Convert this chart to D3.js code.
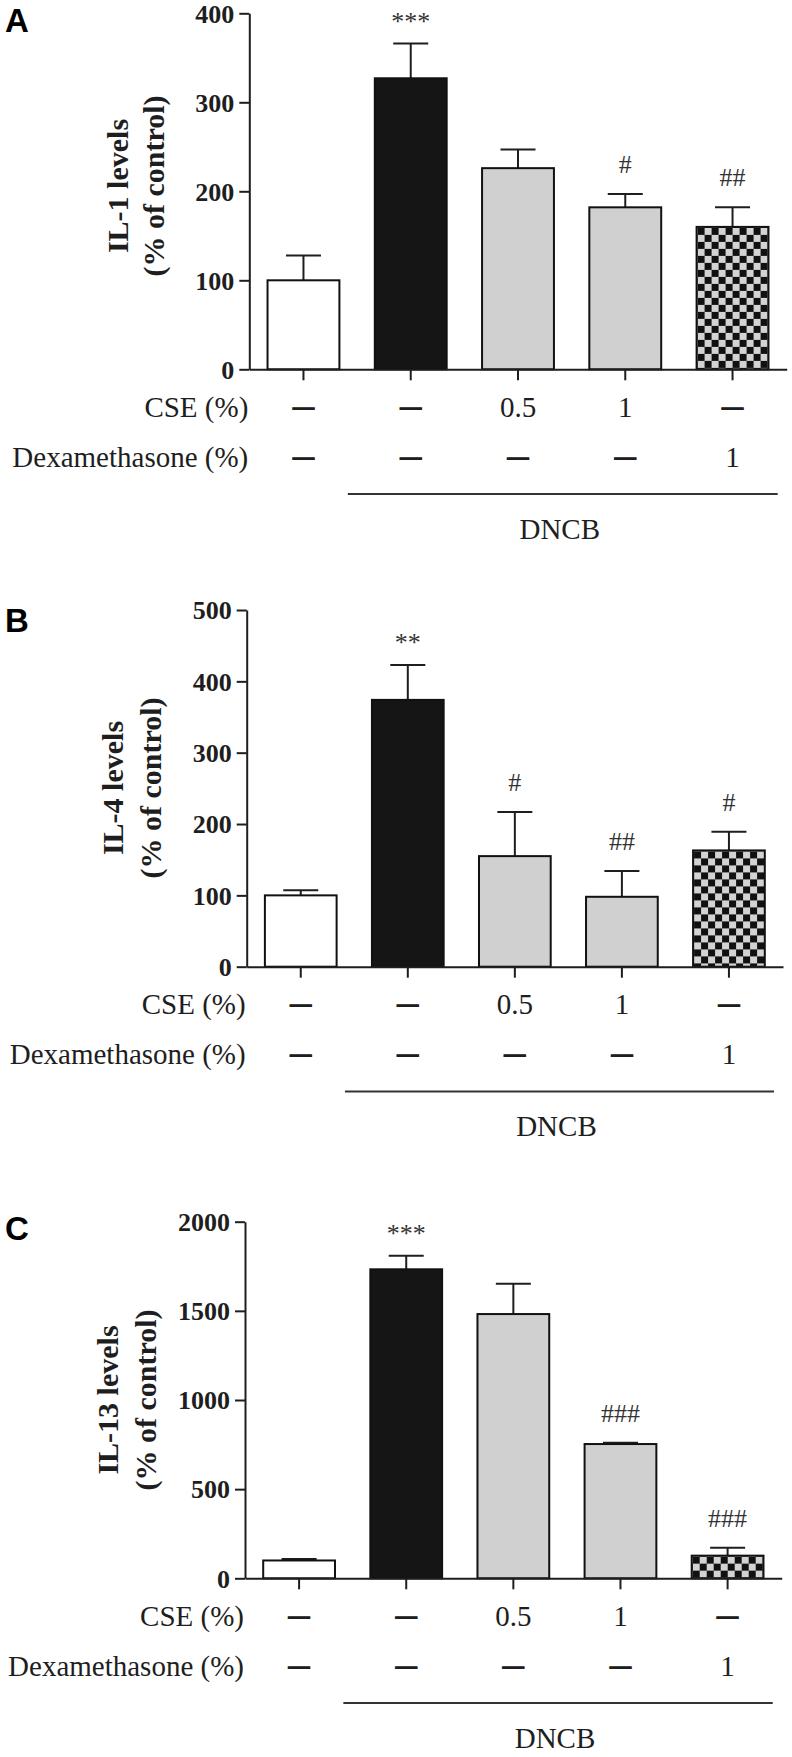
<!DOCTYPE html>
<html><head><meta charset="utf-8">
<script src="https://cdn.jsdelivr.net/npm/d3@7"></script>
<style>body{margin:0;background:#fff} svg{display:block}</style>
</head><body>
<script>
// ---------- data ----------
const categories = ["Control", "DNCB", "DNCB + CSE 0.5%", "DNCB + CSE 1%", "DNCB + Dexamethasone 1%"];
const barFills = ["white", "black", "gray", "gray", "checker"];

const il1Means = [100, 327, 226, 182, 160];
const il1Errs  = [28, 39, 21, 15, 22];
const il1Marks = ["", "***", "", "#", "##"];
const il1Ticks = [0, 100, 200, 300, 400];

const il4Means = [100, 374, 155, 98, 163];
const il4Errs  = [7, 49, 62, 36, 26];
const il4Marks = ["", "**", "#", "##", "#"];
const il4Ticks = [0, 100, 200, 300, 400, 500];

const il13Means = [100, 1733, 1482, 753, 127];
const il13Errs  = [8, 76, 170, 7, 45];
const il13Marks = ["", "***", "", "###", "###"];
const il13Ticks = [0, 500, 1000, 1500, 2000];

const cseRow = ["\u2014", "\u2014", "0.5", "1", "\u2014"];
const dexRow = ["\u2014", "\u2014", "\u2014", "\u2014", "1"];
const rowLabels = ["CSE (%)", "Dexamethasone (%)"];
const groupLabel = "DNCB";

// ---------- layout ----------
const panels = [
  {letter: "A", label: "IL-1 levels", means: il1Means, errs: il1Errs, marks: il1Marks, ticks: il1Ticks,
   x0: 249.3, x1: 786.7, yTop: 13.3, yBottom: 369.3, letterY: 32, lx1: 128, lx2: 164, ly: 186},
  {letter: "B", label: "IL-4 levels", means: il4Means, errs: il4Errs, marks: il4Marks, ticks: il4Ticks,
   x0: 246.7, x1: 783, yTop: 610, yBottom: 966.7, letterY: 632, lx1: 123, lx2: 161, ly: 788},
  {letter: "C", label: "IL-13 levels", means: il13Means, errs: il13Errs, marks: il13Marks, ticks: il13Ticks,
   x0: 245, x1: 781.7, yTop: 1221.7, yBottom: 1578.3, letterY: 1240, lx1: 118, lx2: 156, ly: 1400}
];

const SERIF = "'Liberation Serif', 'Times New Roman', serif";
const SANS = "'Liberation Sans', Arial, sans-serif";
const INK = "#1e1e1e";
const DASH = "\u2014";

const svg = d3.select("body").append("svg").attr("width", 792).attr("height", 1757);
const defs = svg.append("defs");

panels.forEach((p, pi) => {
  const g = svg.append("g");
  const x = d3.scaleBand().domain(categories).range([p.x0, p.x1]).paddingInner(0.33).paddingOuter(0.17);
  const y = d3.scaleLinear().domain([p.ticks[0], p.ticks[p.ticks.length - 1]]).range([p.yBottom, p.yTop]);
  const cx = d => x(d) + x.bandwidth() / 2;

  // checker pattern aligned with the last bar
  const lastCat = categories[4];
  const pat = defs.append("pattern").attr("id", "checker" + pi)
    .attr("patternUnits", "userSpaceOnUse").attr("width", 14).attr("height", 14)
    .attr("x", x(lastCat) + 1).attr("y", y(p.means[4]) + 1);
  pat.append("rect").attr("width", 14).attr("height", 14).attr("fill", "#d3d3d3");
  pat.append("rect").attr("width", 7).attr("height", 7).attr("fill", "#111");
  pat.append("rect").attr("x", 7).attr("y", 7).attr("width", 7).attr("height", 7).attr("fill", "#111");

  const fillFor = f => f === "white" ? "#ffffff" : f === "black" ? "#151515" : f === "gray" ? "#d0d0d0" : `url(#checker${pi})`;

  // error bars
  const eb = g.append("g").attr("stroke", INK).attr("stroke-width", 2);
  eb.selectAll("line.v").data(categories).join("line").attr("class", "v")
    .attr("x1", cx).attr("x2", cx)
    .attr("y1", (d, i) => y(p.means[i])).attr("y2", (d, i) => y(p.means[i] + p.errs[i]));
  eb.selectAll("line.c").data(categories).join("line").attr("class", "c")
    .attr("x1", d => cx(d) - 17.5).attr("x2", d => cx(d) + 17.5)
    .attr("y1", (d, i) => y(p.means[i] + p.errs[i])).attr("y2", (d, i) => y(p.means[i] + p.errs[i]));

  // bars
  g.append("g").selectAll("rect").data(categories).join("rect")
    .attr("x", d => x(d)).attr("width", x.bandwidth())
    .attr("y", (d, i) => y(p.means[i])).attr("height", (d, i) => y(0) - y(p.means[i]))
    .attr("fill", (d, i) => fillFor(barFills[i]))
    .attr("stroke", "#111").attr("stroke-width", 2);

  // significance marks
  g.append("g").selectAll("text").data(categories).join("text")
    .attr("x", cx)
    .attr("y", (d, i) => y(p.means[i] + p.errs[i]) - (p.marks[i].startsWith("*") ? 14 : 21))
    .attr("text-anchor", "middle")
    .attr("font-family", SERIF).attr("font-size", 26)
    .attr("fill", "#333")
    .text((d, i) => p.marks[i]);

  // y axis
  const ga = g.append("g").attr("transform", `translate(${p.x0},0)`)
    .call(d3.axisLeft(y).tickValues(p.ticks).tickSize(10).tickSizeOuter(0).tickPadding(5).tickFormat(d3.format("d")));
  ga.selectAll("path,line").attr("stroke", INK).attr("stroke-width", 2);
  ga.selectAll("text").attr("font-family", SERIF).attr("font-weight", "bold").attr("font-size", 26)
    .attr("fill", INK).attr("dy", "0.34em");

  // x axis
  const gx = g.append("g").attr("transform", `translate(0,${y(0)})`)
    .call(d3.axisBottom(x).tickSize(11).tickSizeOuter(0).tickFormat(""));
  gx.selectAll("path,line").attr("stroke", INK).attr("stroke-width", 2);

  // y label (two lines, rotated)
  const yl = g.append("g").attr("font-family", SERIF).attr("font-weight", "bold").attr("font-size", 30).attr("fill", INK);
  yl.append("text").attr("transform", `translate(${p.lx1},${p.ly}) rotate(-90)`).attr("text-anchor", "middle").text(p.label);
  yl.append("text").attr("transform", `translate(${p.lx2},${p.ly}) rotate(-90)`).attr("text-anchor", "middle").text("(% of control)");

  // panel letter
  g.append("text").attr("x", 5).attr("y", p.letterY).attr("font-family", SANS).attr("font-weight", "bold")
    .attr("font-size", 33).attr("fill", "#000").text(p.letter);

  // treatment rows
  const base = y(0);
  [cseRow, dexRow].forEach((row, ri) => {
    const by = base + 47.4 + ri * 50;
    g.append("text").attr("x", p.x0 - 1).attr("y", by).attr("text-anchor", "end")
      .attr("font-family", SERIF).attr("font-size", 29).attr("fill", INK).text(rowLabels[ri]);
    g.append("g").selectAll("text").data(categories).join("text")
      .attr("x", cx).attr("y", (d, i) => row[i] === DASH ? by - 3 : by)
      .attr("text-anchor", "middle").attr("font-family", SERIF)
      .attr("font-size", (d, i) => row[i] === DASH ? 21 : 29)
      .attr("font-weight", (d, i) => row[i] === DASH ? "bold" : "normal")
      .attr("stroke", (d, i) => row[i] === DASH ? INK : "none")
      .attr("stroke-width", (d, i) => row[i] === DASH ? 1.3 : 0)
      .attr("fill", INK)
      .text((d, i) => row[i]);
  });

  // DNCB bracket line and label
  const lx0 = x(categories[1]) - 27, lx1 = p.x1 - 9;
  g.append("line").attr("x1", lx0).attr("x2", lx1).attr("y1", base + 124.7).attr("y2", base + 124.7)
    .attr("stroke", "#333").attr("stroke-width", 2);
  g.append("text").attr("x", (lx0 + lx1) / 2 - 3).attr("y", base + 169.7).attr("text-anchor", "middle")
    .attr("font-family", SERIF).attr("font-size", 29).attr("fill", INK).text(groupLabel);
});
</script>
</body></html>
